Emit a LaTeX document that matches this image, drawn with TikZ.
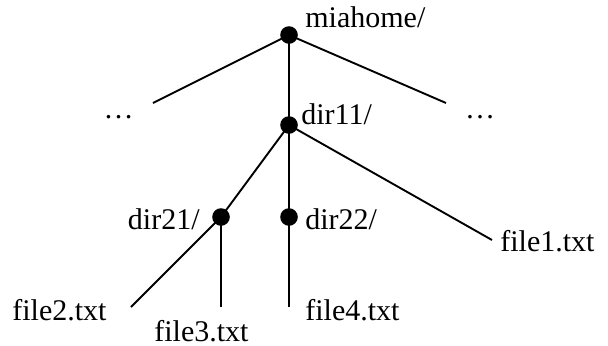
\documentclass[tikz,border=0pt]{standalone}
\usepackage{fontspec}
\setmainfont{Liberation Serif}
\begin{document}
\begin{tikzpicture}[x=0.5pt,y=-0.5pt,
  dot/.style={circle,fill=black,inner sep=0pt,minimum size=8.8pt},
  lbl/.style={inner sep=0pt,font=\fontsize{15}{18}\selectfont},
  edge/.style={line width=0.95pt}]
\useasboundingbox (0,0) rectangle (608,345);
% dots
\node[dot] (root) at (289,35) {};
\node[dot] (d11) at (289,125) {};
\node[dot] (d21) at (221,217) {};
\node[dot] (d22) at (289,217) {};
% free ends
\coordinate (lend) at (153,103);
\coordinate (rend) at (446,103);
\coordinate (f1end) at (492,240);
\coordinate (f2end) at (131,307);
\coordinate (f3end) at (221,307);
\coordinate (f4end) at (289,307);
% connectors
\draw[edge] (root.center) -- (lend);
\draw[edge] (root.center) -- (rend);
\draw[edge] (root.center) -- (d11.center);
\draw[edge] (d11.center) -- (d21.center);
\draw[edge] (d11.center) -- (d22.center);
\draw[edge] (d11.center) -- (f1end);
\draw[edge] (d21.center) -- (f2end);
\draw[edge] (d21.center) -- (f3end);
\draw[edge] (d22.center) -- (f4end);
% labels
\node[lbl,anchor=base west] (tmia) at (305,27) {miahome/};
\node[lbl,anchor=base west] (t11) at (301,124) {dir11/};
\node[lbl,anchor=base] (tdl) at (118.5,118) {…};
\node[lbl,anchor=base] (tdr) at (480,118) {…};
\node[lbl,anchor=base east] (t21) at (200,229) {dir21/};
\node[lbl,anchor=base west] (t22) at (305,229) {dir22/};
\node[lbl,anchor=base west] (tf1) at (500,251) {file1.txt};
\node[lbl,anchor=base west] (tf2) at (12,320) {file2.txt};
\node[lbl,anchor=base west] (tf3) at (154,341) {file3.txt};
\node[lbl,anchor=base west] (tf4) at (305,320) {file4.txt};
\end{tikzpicture}
\end{document}
